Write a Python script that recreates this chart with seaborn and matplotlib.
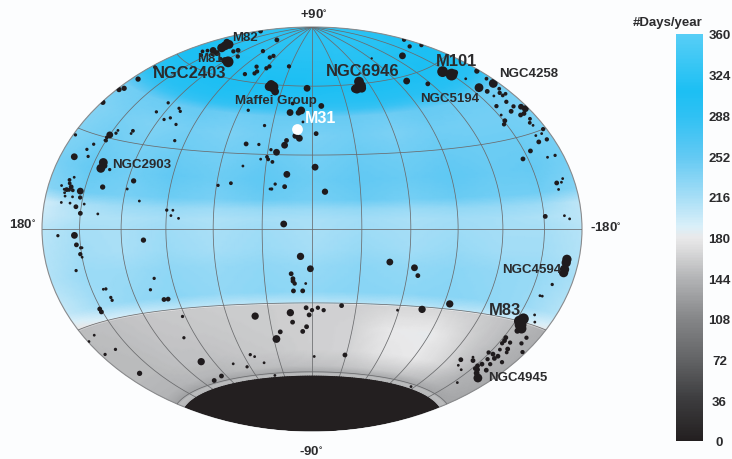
import numpy as np
import pandas as pd
import matplotlib
matplotlib.use("Agg")
import matplotlib.pyplot as plt
import seaborn as sns
from matplotlib.colors import LinearSegmentedColormap, Normalize

# galaxies: galactic longitude, latitude (deg) and marker diameter (px)
gal_lon = [178,104,92,128,131,114,155,155,153,155,164,160,163,145,147,156,115,121,129,176,174,175,178,179,74,68,69,79,66,69,58,60,32,40,44,36,
           43,5,17,9,11,18,53,124,111,108,127,116,112,104,36,7,-3,12,9,18,19,24,46,37,28,30,29,26,34,45,16,-2,23,17,25,26,
           51,59,150,151,146,146,150,151,134,134,98,178,158,161,157,168,143,143,141,136,137,116,119,164,161,163,169,161,164,159,166,162,165,153,152,158,
           164,166,159,148,154,150,137,109,90,86,87,82,17,-178,-164,-178,-92,-134,-146,-150,-156,-177,-100,-157,-117,-175,-175,-158,-161,-162,-174,-170,-174,-170,-167,-155,
           -169,-163,-175,-177,-172,-168,-152,-173,-170,-151,-148,-171,-177,-167,-173,-166,-174,-155,-146,-173,-166,-165,-171,-169,-165,-151,-166,-170,-8,-8,-51,-45,-50,-43,-50,167,
           154,153,150,149,151,150,157,139,141,138,138,151,151,105,102,107,100,97,92,100,170,179,163,176,166,101,107,95,74,63,54,51,45,40,15,14,
           24,28,7,4,2,4,0,-4,7,1,13,12,12,11,4,12,6,-2,40,-8,-20,-29,-59,-76,-94,-48,-64,-67,-156,-153,-155,-157,-159,-162,-166,-158,
           -160,-164,-170,-170,-170,-170,-152,-153,-159,-153,-169,-169,-162,-156,-164,-149,-177,-169,-160,-159,-154,-154,-154,-152,-161,-153,-164,-156,-166,-159,-132,-135,-142,-140,-143,-154,-116]
gal_lat = [79,80,74,71,70,69,71,70,69,67,71,66,65,67,66,64,66,66,66,54,49,45,44,39,67,65,64,63,73,72,68,67,69,59,59,57,
           60,59,52,49,48,48,48,46,45,44,42,40,41,39,42,44,39,38,37,36,34,31,34,34,32,29,28,27,28,25,22,25,18,17,16,16,
           18,17,31,30,32,33,29,29,34,33,33,28,27,25,23,22,22,20,21,20,14,17,14,15,16,14,13,13,12,12,12,12,11,12,10,10,
           10,8,8,8,7,5,5,10,7,7,5,4,2,70,68,66,70,67,57,55,55,52,58,52,55,47,49,48,46,44,45,44,43,43,41,41,
           39,38,38,37,36,36,38,34,33,36,35,32,30,29,29,27,27,25,23,22,22,14,15,14,12,4,4,3,51,15,61,58,58,58,59,-2,
           -2,-5,-6,-6,-8,-9,-13,-20,-20,-23,-24,-26,-27,-4,-18,-22,-26,-26,-33,-41,-33,-34,-39,-39,-48,-51,-59,-58,-54,-56,-51,-52,-55,-35,-34,-38,
           -42,-45,-42,-40,-35,-32,-33,-32,-11,-16,-18,-20,-21,-22,-22,-25,-25,-53,-61,-33,-31,-52,-32,-31,-28,-13,-15,-18,-31,-30,-29,-33,-32,-27,-29,-21,
           -21,-17,-9,-10,-12,-13,-36,-37,-37,-38,-34,-36,-39,-40,-40,-42,-38,-43,-42,-43,-42,-44,-46,-47,-45,-48,-47,-48,-50,-49,-47,-49,-50,-45,-46,-54,-61]
gal_size = [4,4,3.5,4,3.5,3.5,8,8,8,6,6,3,3,5,3,3,10,6,3,3,4.5,4.5,4.5,4.5,3.5,3.5,3.5,3.5,3.5,3.5,3.5,3.5,3.5,10,8,7,
            8,6,3,7,5,6,2.5,2.5,2.5,2.5,2.5,2.5,2.5,2.5,2.5,2,4,5,6,4,6,6,4,2.5,2.5,3,3,3,2,2,6,6,2.5,4,2.5,2,
            3,2.5,6,3,2.5,2,3,2,3,2,2.5,2.5,2.5,2.5,2.5,6,8,8,5,2.5,4.5,4.5,2,3,2,3,2,4,4,3,2,3,2,6,3.5,2,
            2,2,2,2,4,4,2,2,2.5,2,2,2,6,3.5,3.5,3.5,1.5,6,10,11,5,4.5,6,2,4,8,3,8,4,2,3,3.5,3,3,3.5,3.5,
            3.5,4,5,6,4,4,2,3,3,4,3.5,2,3.5,2,2,4,3.5,4,4,2.5,2,4,2,2,2,4,2,2,5,5.5,9,9,8,7,10,2.5,
            6,4,2.5,2,3.5,2,2.5,2.5,2,2.5,2.5,4,4,4.5,2.5,2.5,4,4,2.5,2.5,2,2,2.5,2.5,4.5,6.5,4,4,2,2.5,2.5,2,2,6.5,6.5,4,
            4,7,4,4,4,4,3.5,3.5,6.5,6,4,4,4,3.5,2,4,4,2,2,3.5,4,4,2,6.5,6.5,6,6,4,11,10,10,5,9,2,2,2,
            2,2.5,8.5,8.5,8.5,8.5,4,4,3.5,3.5,3.5,3.5,4,3,3,3.5,3.5,3.5,4,4,4,3.5,4,4,3.5,4,4,4,8,5,4,2,2,2,4,2,2]
m31_lon, m31_lat, m31_size = [11], [41], [10]

# days per year on the sky, rows by latitude, columns by longitude
sky_lon = [179.9,150,120,90,60,30,0,-30,-60,-90,-120,-150,-179.9]
sky_lat = [89.9,75,60,53,49.5,46.5,38,30,20,12,8,4,0,-8,-15,-25,-29.6,-30.4,-40,-50,-57,-59.6,-60.4,-62]
sky_days = [
    [325,325,325,325,325,325,325,325,325,325,325,325,325],
    [318,320,320,322,320,320,320,320,322,320,320,320,318],
    [305,308,310,312,310,308,310,310,312,310,310,308,305],
    [292,295,298,300,298,296,298,296,298,296,298,296,292],
    [270,276,280,283,280,278,280,282,280,278,282,278,273],
    [242,246,248,250,246,248,250,248,246,250,248,246,242],
    [234,240,236,242,238,244,238,244,238,244,242,242,238],
    [234,244,240,246,242,248,242,248,244,248,246,246,240],
    [240,250,244,252,246,254,246,252,248,254,248,250,242],
    [232,244,240,246,240,248,242,248,242,248,244,244,234],
    [194,214,220,224,220,224,222,226,222,226,224,220,204],
    [198,210,212,216,212,216,214,218,214,218,216,212,204],
    [206,216,214,220,214,220,214,220,216,220,216,216,208],
    [208,218,214,222,216,222,216,224,218,224,218,218,210],
    [210,222,222,228,224,228,224,230,226,230,226,224,214],
    [200,218,226,230,226,230,228,232,230,232,228,222,208],
    [178,190,198,204,204,206,206,208,208,208,204,196,182],
    [150,152,156,158,160,160,164,162,166,166,160,150,140],
    [148,150,154,156,158,160,162,164,180,182,164,148,138],
    [148,148,152,152,156,158,162,164,176,180,166,144,136],
    [144,144,146,146,150,150,152,154,158,156,150,140,134],
    [132,132,134,134,136,136,138,138,140,138,136,134,132],
    [150,150,150,150,150,150,150,150,150,150,150,150,150],
    [146,146,146,146,146,146,146,146,146,146,146,146,146],
]
cap_lat = [-62,-89.9]
cap_days = [0, 0]

bar_ticks = [0,36,72,108,144,180,216,252,288,324,360]
bar_stops = [0,36,72,108,144,170,180,190,216,252,288,310,360]
bar_colors = ["#231f20","#3c3c3e","#636466","#858688","#b3b4b6","#dcdcdd","#e9e9ea","#d9eff9",
              "#a6def6","#62c9f3","#2fc1f3","#1cbff3","#57cef6"]

labels_big = [("NGC2403",153,74),("NGC6946",326,71),("M101",436,61),("M83",489,311)]
labels_small = [("M82",232,38),("M81",197,59),("Maffei Group",235,101),("NGC2903",112,165),
                ("NGC4258",499,74),("NGC5194",420,99),("NGC4594",502,270),("NGC4945",488,378)]
edge_labels = [(r"+90$^{\circ}$",314,14),(r"-90$^{\circ}$",311,452),(r"180$^{\circ}$",23,225),(r"-180$^{\circ}$",606,228)]

W, H = 732, 460
TXT = "#2b2b2d"


def fine_table(table, rows, cols, fine_rows, fine_cols):
    # finer shading grid so that the cells follow the curved projection
    by_col = np.array([np.interp(fine_cols, cols[::-1], r[::-1]) for r in np.asarray(table, dtype=float)])
    return np.array([np.interp(fine_rows, rows[::-1], c[::-1]) for c in by_col.T]).T


sns.set_theme(style="white", rc={"figure.facecolor": "#fcfdfe", "savefig.facecolor": "#fcfdfe"})
plt.rcParams["font.family"] = ["Liberation Sans", "DejaVu Sans"]
plt.rcParams["mathtext.default"] = "regular"

cmap = LinearSegmentedColormap.from_list("days", [(s / 360, c) for s, c in zip(bar_stops, bar_colors)])
norm = Normalize(0, 360)

fig = plt.figure(figsize=(W / 100, H / 100), dpi=100)
ax = fig.add_axes([42 / W, 1 - 432 / H, 540 / W, 404 / H], projection="hammer")
ax.set_aspect("auto")

fine_lon = np.linspace(sky_lon[-1], sky_lon[0], 145)
fine_lat = np.unique(np.concatenate([np.linspace(sky_lat[i + 1], sky_lat[i], 9) for i in range(len(sky_lat) - 1)]))
sky_fine = fine_table(sky_days, np.array(sky_lat), np.array(sky_lon), fine_lat, fine_lon)
grid_x, grid_y = np.meshgrid(-np.radians(fine_lon), np.radians(fine_lat))
mesh = ax.pcolormesh(grid_x, grid_y, sky_fine, cmap=cmap, norm=norm, shading="gouraud", zorder=1)

cap_fine = np.linspace(cap_lat[1], cap_lat[0], 40)
cap_x, cap_y = np.meshgrid(-np.radians(fine_lon), np.radians(cap_fine))
ax.pcolormesh(cap_x, cap_y, np.full(cap_x.shape, cap_days[0]), cmap=cmap, norm=norm, shading="gouraud", zorder=3)

ax.set_axisbelow(False)
ax.set_longitude_grid(30)
ax.set_latitude_grid(30)
ax.set_longitude_grid_ends(90)
ax.grid(True, color="#6a6b6d", linewidth=0.55, linestyle="-")
ax.set_xticklabels([])
ax.set_yticklabels([])
ax.spines["geo"].set_edgecolor("#8a8b8d")
ax.spines["geo"].set_linewidth(0.8)

galaxies = pd.DataFrame({"lon": gal_lon, "lat": gal_lat, "size": gal_size})
galaxies["x"] = -np.radians(galaxies["lon"])
galaxies["y"] = np.radians(galaxies["lat"])
# small dots read a bit wider in the blurred original
sns.scatterplot(data=galaxies, x="x", y="y", s=((galaxies["size"] + 0.8) * 0.72) ** 2, color="#1f1b1d",
                linewidth=0, ax=ax, legend=False, zorder=4)
ax.scatter(-np.radians(m31_lon), np.radians(m31_lat), s=((np.array(m31_size) + 0.8) * 0.72) ** 2,
           color="white", linewidth=0, zorder=5)
ax.set(xlabel="", ylabel="")

for name, x, y in labels_big:
    fig.text(x / W, 1 - y / H, name, fontsize=11.9, fontweight="bold", color=TXT, va="center", zorder=6)
for name, x, y in labels_small:
    fig.text(x / W, 1 - y / H, name, fontsize=9.5, fontweight="bold", color=TXT, va="center", zorder=6)
fig.text(305 / W, 1 - 119 / H, "M31", fontsize=11.5, fontweight="bold", color="white", va="center", zorder=6)
for name, x, y in edge_labels:
    fig.text(x / W, 1 - y / H, name, fontsize=9.5, fontweight="bold", color=TXT, ha="center", va="center")

cax = fig.add_axes([676 / W, 1 - 442 / H, 27 / W, 407 / H])
bar = fig.colorbar(mesh, cax=cax, ticks=bar_ticks)
bar.outline.set_visible(False)
cax.tick_params(length=0, pad=11.9, labelsize=9.5, labelcolor=TXT)
for t in cax.get_yticklabels():
    t.set_ha("center")
    t.set_fontweight("bold")
fig.text(668 / W, 1 - 23 / H, "#Days/year", fontsize=9.5, fontweight="bold", color=TXT, ha="center", va="center")

fig.savefig("out.png", dpi=100)
